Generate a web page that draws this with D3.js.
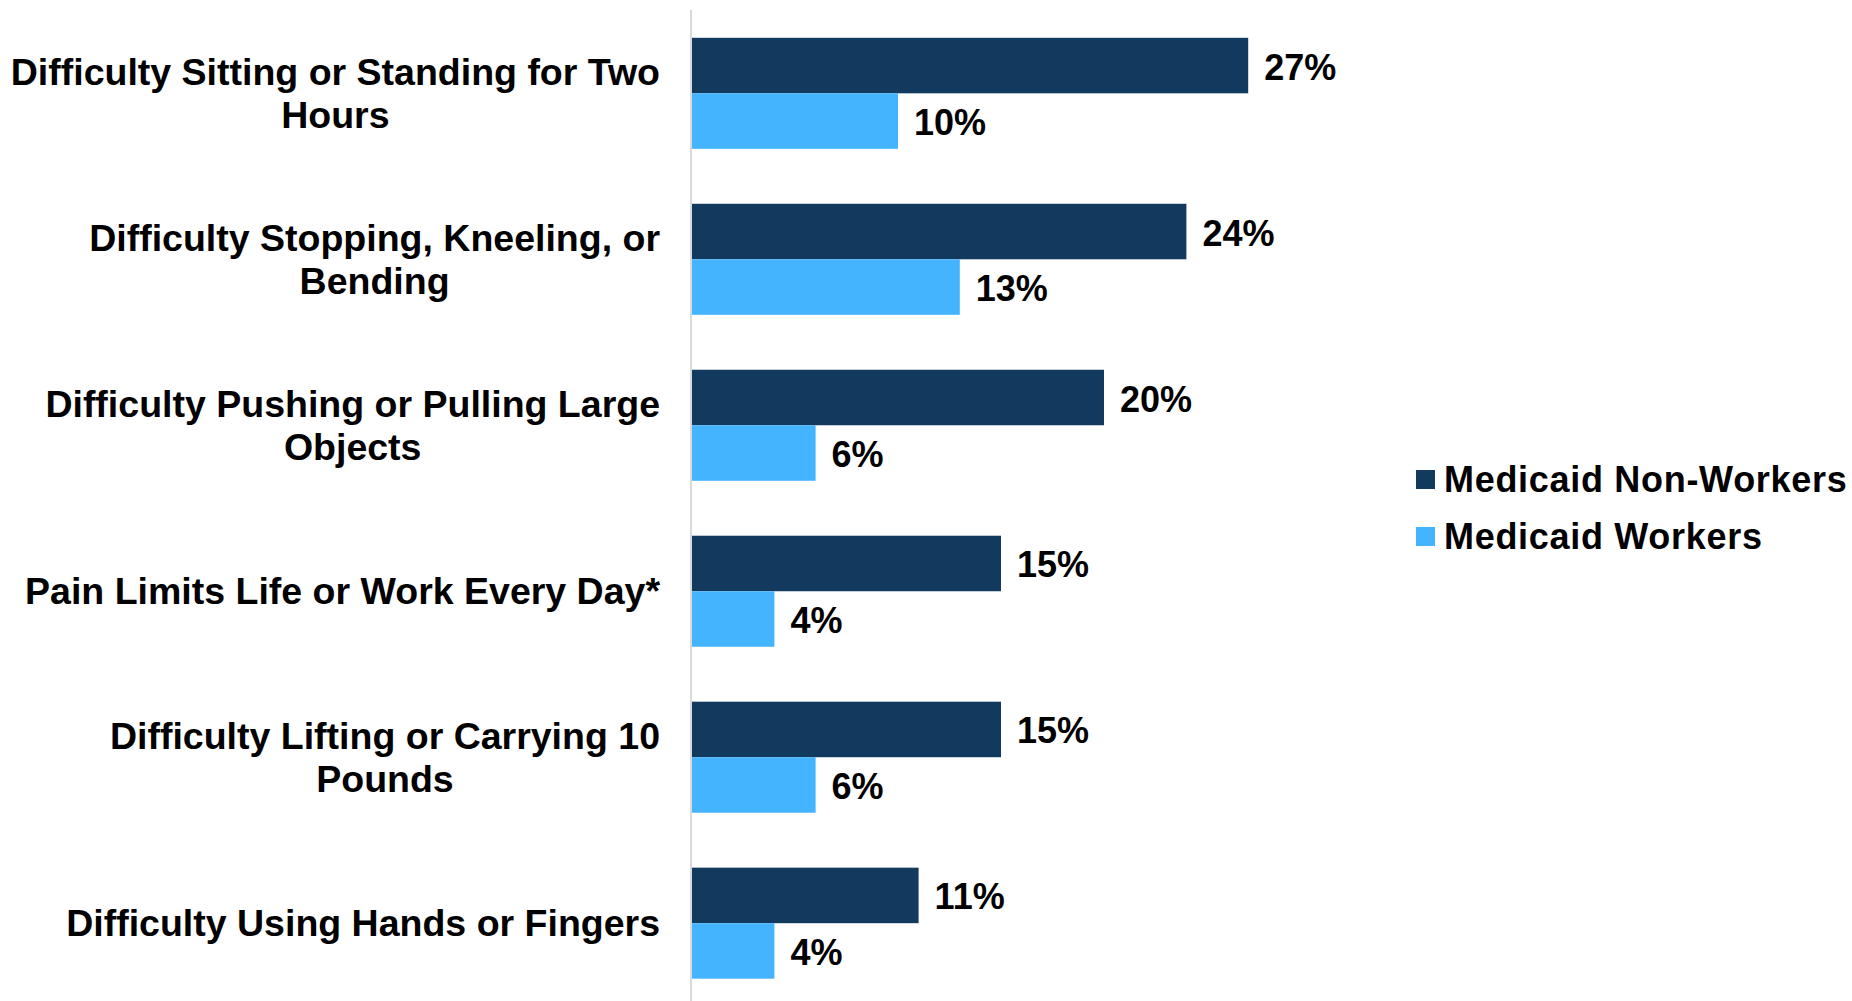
<!DOCTYPE html>
<html>
<head>
<meta charset="utf-8">
<script src="https://cdn.jsdelivr.net/npm/d3@7"></script>
<style>
  html, body { margin: 0; padding: 0; background: #fff; }
  svg { display: block; }
  text { font-family: "Liberation Sans", Arial, sans-serif; font-weight: bold; fill: #000; }
</style>
</head>
<body>
<svg id="chart" width="1852" height="1001"></svg>
<script>
const categories = [
  "Difficulty Sitting or Standing for Two Hours",
  "Difficulty Stopping, Kneeling, or Bending",
  "Difficulty Pushing or Pulling Large Objects",
  "Pain Limits Life or Work Every Day*",
  "Difficulty Lifting or Carrying 10 Pounds",
  "Difficulty Using Hands or Fingers"
];
const categoryLines = [
  ["Difficulty Sitting or Standing for Two", "Hours"],
  ["Difficulty Stopping, Kneeling, or", "Bending"],
  ["Difficulty Pushing or Pulling Large", "Objects"],
  ["Pain Limits Life or Work Every Day*"],
  ["Difficulty Lifting or Carrying 10", "Pounds"],
  ["Difficulty Using Hands or Fingers"]
];
const seriesNames = ["Medicaid Non-Workers", "Medicaid Workers"];
const nonWorkers = [27, 24, 20, 15, 15, 11];
const workers = [10, 13, 6, 4, 6, 4];
const seriesColors = ["#123a5e", "#45b4ff"];

const svg = d3.select("#chart");
const seriesValues = [nonWorkers, workers];

const x = d3.scaleLinear().domain([0, 30]).range([692, 692 + 618]);
const y = d3.scaleBand().domain(categories).range([37.8, 978.7]).paddingInner(0.331).paddingOuter(0);
const ySub = d3.scaleBand().domain(seriesNames).range([0, y.bandwidth()]).padding(0);

// axis line
svg.append("line")
  .attr("x1", 691).attr("x2", 691)
  .attr("y1", 10).attr("y2", 1001)
  .attr("stroke", "#d9d9d9").attr("stroke-width", 2);

// bars
seriesNames.forEach((s, si) => {
  const g = svg.append("g");
  g.selectAll("rect").data(categories).join("rect")
    .attr("x", x(0))
    .attr("y", c => y(c) + ySub(s))
    .attr("width", (c, i) => x(seriesValues[si][i]) - x(0))
    .attr("height", ySub.bandwidth())
    .attr("fill", seriesColors[si]);
  g.selectAll("text").data(categories).join("text")
    .attr("x", (c, i) => x(seriesValues[si][i]) + 16)
    .attr("y", c => y(c) + ySub(s) + ySub.bandwidth() / 2 + 14)
    .attr("font-size", 36)
    .text((c, i) => seriesValues[si][i] + "%");
});

// category labels
const labelRight = 660;
const lineH = 43;
categories.forEach((c, i) => {
  const lines = categoryLines[i];
  const g = svg.append("g");
  const cy = y(c) + y.bandwidth() / 2;
  const texts = lines.map((ln, li) => g.append("text")
    .attr("font-size", 37.5)
    .attr("text-anchor", "middle")
    .attr("y", cy + 13 + (li - (lines.length - 1) / 2) * lineH)
    .text(ln));
  const maxW = d3.max(texts, t => t.node().getComputedTextLength());
  texts.forEach(t => t.attr("x", labelRight - maxW / 2));
});

// legend
const legend = svg.append("g");
seriesNames.forEach((s, i) => {
  const ly = 470 + i * 57;
  legend.append("rect")
    .attr("x", 1416).attr("y", ly).attr("width", 19).attr("height", 19)
    .attr("fill", seriesColors[i]);
  legend.append("text")
    .attr("x", 1444).attr("y", ly + 22)
    .attr("font-size", 36)
    .attr("letter-spacing", 0.7)
    .text(s);
});
</script>
</body>
</html>
